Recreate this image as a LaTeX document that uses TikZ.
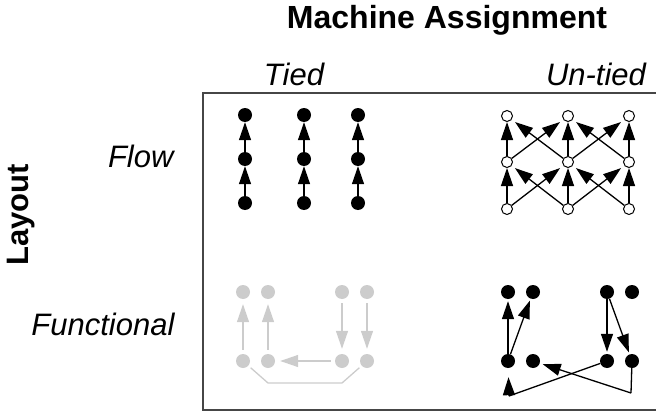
\documentclass[tikz,border=0pt]{standalone}
\usepackage{fontspec}
\setmainfont{Liberation Sans}
\usepackage{xcolor}
\usepackage{tikz}
\usetikzlibrary{arrows.meta, calc}
\definecolor{faded}{RGB}{204,204,204}
\definecolor{framegrey}{RGB}{70,70,70}

\tikzset{
  dot/.style={circle, fill=black, inner sep=0pt, minimum size=14pt},
  hollow/.style={circle, draw, fill=white, inner sep=0pt, minimum size=11pt, line width=1pt},
  fadeddot/.style={dot, fill=faded},
  link/.style={-{Triangle[length=18pt,width=12pt]}, line width=1.3pt},
  heading/.style={font=\fontsize{31}{36}\selectfont\itshape, anchor=base},
}

\begin{document}
\begin{tikzpicture}[x=1pt, y=-1pt]
\useasboundingbox (0,0) rectangle (656,412);
% frame, open on the right
\draw[framegrey, line width=1.6pt] (656,93) -- (203,93) -- (203,410) -- (656,410);
% labels
\node[font=\fontsize{32}{38}\selectfont\bfseries, anchor=base] (title) at (447,29) {Machine Assignment};
\node[heading] (tied) at (294,85) {Tied};
\node[heading] (untied) at (596,85) {Un-tied};
\node[heading, anchor=base east] (flow) at (177,167) {Flow};
\node[heading, anchor=base east] (functional) at (178,335) {Functional};
\node[font=\fontsize{31}{36}\selectfont\bfseries, rotate=90] (layout) at (21,215) {Layout};

% tied / flow
\foreach \c/\x in {1/245,2/304,3/358} {
  \foreach \r/\y in {1/115,2/159,3/203} {
    \node[dot] (t\c\r) at (\x,\y) {};
  }
  \draw[link] (t\c3) -- (t\c2);
  \draw[link] (t\c2) -- (t\c1);
}

% un-tied / flow
\foreach \c/\x in {1/507,2/568,3/629} {
  \foreach \r/\y in {1/116,2/162,3/209} {
    \node[hollow] (u\c\r) at (\x,\y) {};
  }
}
\foreach \r/\s in {3/2,2/1} {
  \foreach \c in {1,2,3} {
    \draw[link] (u\c\r) -- (u\c\s);
  }
  \draw[link, shorten >=4pt] (u1\r) -- (u2\s);
  \draw[link, shorten >=4pt] (u2\r) -- (u1\s);
  \draw[link, shorten >=4pt] (u2\r) -- (u3\s);
  \draw[link, shorten >=4pt] (u3\r) -- (u2\s);
}

% tied / functional
\foreach \i/\x in {1/243,2/268,3/342,4/367} {
  \node[fadeddot] (gt\i) at (\x,292) {};
  \node[fadeddot] (gb\i) at (\x,361) {};
}
\begin{scope}[faded]
\draw[link, shorten >=5pt, shorten <=4pt] (gb1) -- (gt1);
\draw[link, shorten >=5pt, shorten <=4pt] (gb2) -- (gt2);
\draw[link, shorten >=5pt, shorten <=4pt] (gt3) -- (gb3);
\draw[link, shorten >=5pt, shorten <=4pt] (gt4) -- (gb4);
\draw[link, shorten >=5pt, shorten <=4pt] (gb3) -- (gb2);
\draw[line width=1.3pt, shorten <=3pt, shorten >=3pt] (gb1) -- ($(gb2)+(0,22)$) -- ($(gb3)+(0,22)$) -- (gb4);
\end{scope}

% un-tied / functional
\foreach \i/\x in {1/508,2/533,3/607,4/632} {
  \node[dot] (ft\i) at (\x,292) {};
  \node[dot] (fb\i) at (\x,361) {};
}
\coordinate (fc1) at (509,396);
\coordinate (fc2) at (631,393);
\draw[link, shorten >=2pt] (fb1) -- (ft1);
\draw[link, shorten >=2pt] (fb1) -- (ft2);
\draw[link, shorten >=2pt] (ft3) -- (fb3);
\draw[link, shorten >=2pt] (ft3) -- (fb4);
\draw[line width=1.3pt] (fb3) -- (fc1);
\draw[link, shorten >=9pt] (fc1) -- (fb1);
\draw[line width=1.3pt] (fb4) -- (fc2);
\draw[link, shorten >=3pt] (fc2) -- (fb2);
\end{tikzpicture}
\end{document}
